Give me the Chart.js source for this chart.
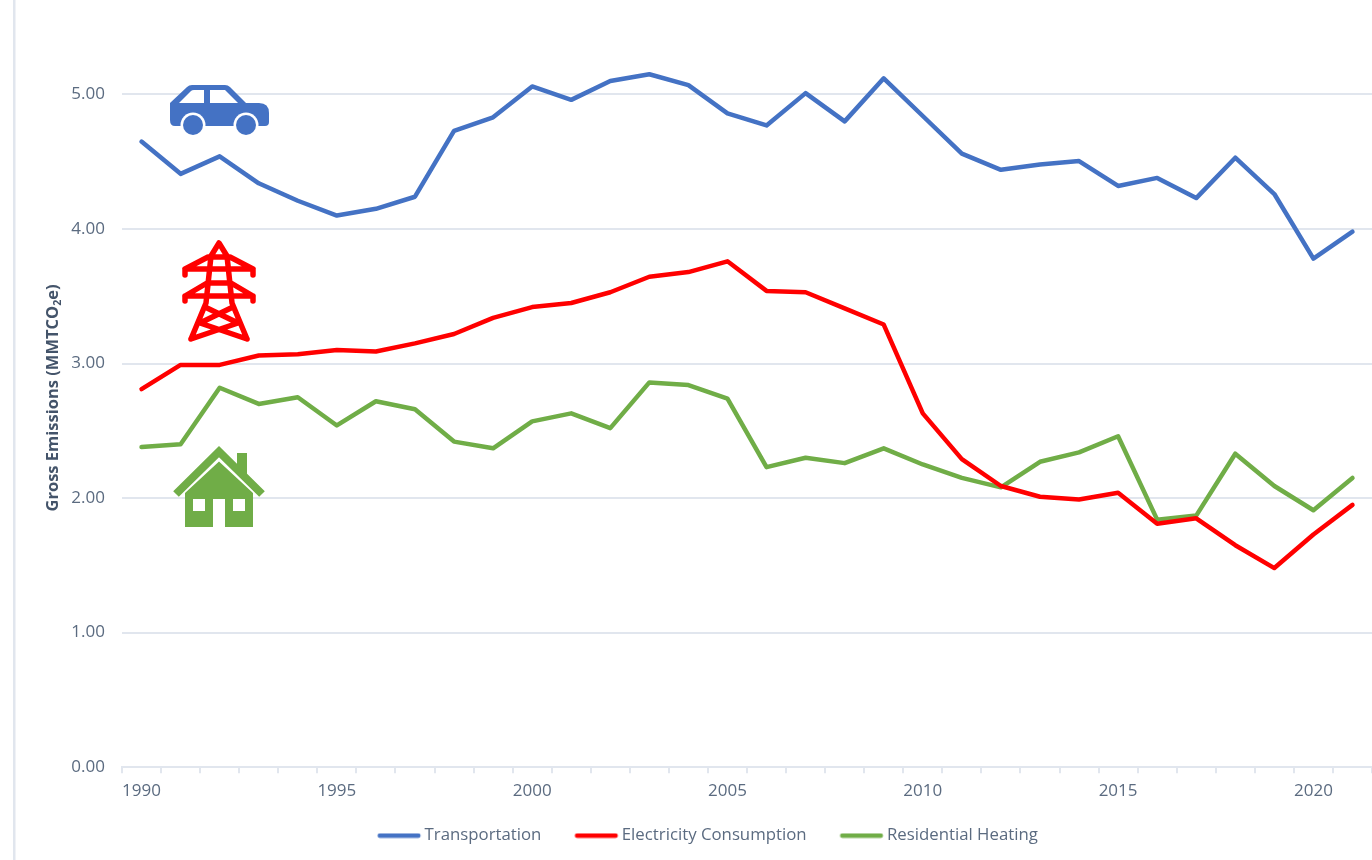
<!DOCTYPE html>
<html>
<head>
<meta charset="utf-8">
<title>Gross Emissions</title>
<script src="https://cdn.jsdelivr.net/npm/chart.js@4"></script>
<style>
  body { margin: 0; background: #fff; }
  canvas { display: block; }
</style>
</head>
<body>
<canvas id="chart" width="1372" height="860"></canvas>
<script>
const years = [1990, 1991, 1992, 1993, 1994, 1995, 1996, 1997, 1998, 1999, 2000, 2001, 2002, 2003, 2004, 2005,
  2006, 2007, 2008, 2009, 2010, 2011, 2012, 2013, 2014, 2015, 2016, 2017, 2018, 2019, 2020, 2021];
const transportation = [4.65, 4.41, 4.54, 4.34, 4.21, 4.10, 4.15, 4.24, 4.73, 4.83, 5.06, 4.96, 5.10, 5.15, 5.07, 4.86,
  4.77, 5.01, 4.80, 5.12, 4.84, 4.56, 4.44, 4.48, 4.505, 4.32, 4.38, 4.23, 4.53, 4.26, 3.78, 3.98];
const electricity = [2.81, 2.99, 2.99, 3.06, 3.07, 3.10, 3.09, 3.15, 3.22, 3.34, 3.42, 3.45, 3.53, 3.645, 3.68, 3.76,
  3.54, 3.53, 3.41, 3.29, 2.63, 2.29, 2.09, 2.01, 1.99, 2.04, 1.81, 1.85, 1.65, 1.48, 1.73, 1.95];
const residential = [2.38, 2.40, 2.82, 2.70, 2.75, 2.54, 2.72, 2.66, 2.42, 2.37, 2.57, 2.63, 2.52, 2.86, 2.84, 2.74,
  2.23, 2.30, 2.26, 2.37, 2.25, 2.15, 2.08, 2.27, 2.34, 2.46, 1.84, 1.87, 2.33, 2.09, 1.91, 2.15];

const BLUE = "#4472C4";
const RED = "#FF0000";
const GREEN = "#70AD47";
const TEXT = "#5B6B80";
const GRID = "#E1E6EE";
const FONT = "'Open Sans', sans-serif";

// legend key: the box is wide to space the items, the line only fills its right part
function legendLine(color) {
  const c = document.createElement("canvas");
  c.width = 78;
  c.height = 6;
  const g = c.getContext("2d");
  g.strokeStyle = color;
  g.lineWidth = 4.5;
  g.lineCap = "round";
  g.beginPath();
  g.moveTo(35.6, 3);
  g.lineTo(74.2, 3);
  g.stroke();
  return c;
}

// left rule, axis title with its subscript, and the three little icons
const decorPlugin = {
  id: "decor",
  afterDraw(chart) {
    const ctx = chart.ctx;
    ctx.save();
    ctx.fillStyle = GRID;
    ctx.fillRect(13, 0, 2.5, 860);

    // axis title
    ctx.translate(53, 398);
    ctx.rotate(-Math.PI / 2);
    ctx.fillStyle = "#44546A";
    ctx.textBaseline = "middle";
    ctx.textAlign = "left";
    const big = "bold 16.5px " + FONT;
    const small = "bold 10.5px " + FONT;
    ctx.font = big;
    const a = "Gross Emissions (MMTCO";
    const c = "e)";
    const aw = ctx.measureText(a).width;
    const cw = ctx.measureText(c).width;
    ctx.font = small;
    const bw = ctx.measureText("2").width;
    let x = -(aw + bw + cw) / 2;
    ctx.font = big;
    ctx.fillText(a, x, 0);
    x += aw;
    ctx.font = small;
    ctx.fillText("2", x, 5);
    x += bw;
    ctx.font = big;
    ctx.fillText(c, x, 0);
    ctx.restore();

    drawCar(ctx);
    drawPylon(ctx);
    drawHouse(ctx);
  },
};

function drawCar(ctx) {
  ctx.save();
  ctx.fillStyle = BLUE;
  ctx.fill(new Path2D("M170 103 L187 87 Q189 85 192 85 L225 85 Q228 85 230 87 L246 103 L259 103 Q269 103 269 113 L269 122 Q269 126 265 126 L175 126 Q170 126 170 120 Z"));
  ctx.fillStyle = "#fff";
  ctx.fill(new Path2D("M179 103 L191 91 Q192 90 194 90 L204 90 L204 103 Z"));
  ctx.fill(new Path2D("M210 90 L225 90 L238 103 L210 103 Z"));
  [193, 246].forEach((cx) => {
    ctx.fillStyle = "#fff";
    ctx.beginPath();
    ctx.arc(cx, 125, 12.5, 0, Math.PI * 2);
    ctx.fill();
    ctx.fillStyle = BLUE;
    ctx.beginPath();
    ctx.arc(cx, 125, 10, 0, Math.PI * 2);
    ctx.fill();
  });
  ctx.restore();
}

function drawPylon(ctx) {
  ctx.save();
  ctx.strokeStyle = RED;
  ctx.lineWidth = 5.5;
  ctx.lineCap = "round";
  ctx.lineJoin = "round";
  ctx.stroke(new Path2D(
    "M191 339 L206 303 L211 256 L219 243 L227 256 L232 303 L247 339 " +
    "M185 275 L185 269 L253 269 L253 275 " +
    "M185 269 L208 257 L230 257 L253 269 " +
    "M185 301 L185 296 L253 296 L253 301 " +
    "M185 296 L207 283 L231 283 L253 296 " +
    "M205 307 L238 323 L191 339 M233 307 L200 323 L247 339"
  ));
  ctx.restore();
}

function drawHouse(ctx) {
  ctx.save();
  ctx.fillStyle = GREEN;
  ctx.fill(new Path2D("M237 453 L247 453 L247 474 L237 474 Z"));
  ctx.strokeStyle = GREEN;
  ctx.lineWidth = 8;
  ctx.stroke(new Path2D("M176 494 L219 451.6 L262 494"));
  ctx.fill(new Path2D("M219 461.5 L253 493 L253 527 L225 527 L225 499 L213 499 L213 527 L185 527 L185 493 Z"));
  ctx.fillStyle = "#fff";
  ctx.fillRect(193, 499, 12, 12);
  ctx.fillRect(233, 499, 12, 12);
  ctx.restore();
}

new Chart(document.getElementById("chart"), {
  type: "line",
  data: {
    labels: years,
    datasets: [
      { label: "Transportation", data: transportation, borderColor: BLUE, backgroundColor: BLUE, pointStyle: legendLine(BLUE) },
      { label: "Electricity Consumption", data: electricity, borderColor: RED, backgroundColor: RED, pointStyle: legendLine(RED) },
      { label: "Residential Heating", data: residential, borderColor: GREEN, backgroundColor: GREEN, pointStyle: legendLine(GREEN) },
    ],
  },
  options: {
    responsive: false,
    animation: false,
    layout: { padding: { left: 16, right: 0, top: 3, bottom: 6 } },
    elements: {
      point: { radius: 0 },
      line: { borderWidth: 4.5, tension: 0, borderCapStyle: "round", borderJoinStyle: "round" },
    },
    plugins: {
      title: { display: false },
      tooltip: { enabled: false },
      legend: {
        position: "bottom",
        labels: {
          usePointStyle: true,
          pointStyleWidth: 66,
          padding: 6,
          color: TEXT,
          font: { family: FONT, size: 16.8 },
        },
      },
    },
    scales: {
      x: {
        offset: true,
        grid: { offset: true, drawOnChartArea: false, color: GRID, tickColor: GRID, tickLength: 6, lineWidth: 2 },
        border: { color: GRID, width: 2 },
        ticks: {
          autoSkip: false,
          maxRotation: 0,
          padding: 8,
          color: TEXT,
          font: { family: FONT, size: 17 },
          callback(value, index) {
            return years[index] % 5 === 0 ? String(years[index]) : "";
          },
        },
        afterFit(scale) { scale.height = 54; },
      },
      y: {
        min: 0,
        max: 5.5,
        grid: { color: GRID, lineWidth: 2, drawTicks: false },
        border: { display: false },
        ticks: {
          stepSize: 1,
          padding: 17,
          color: TEXT,
          font: { family: FONT, size: 17 },
          callback(value) { return value.toFixed(2); },
        },
        afterBuildTicks(scale) { scale.ticks = scale.ticks.filter((t) => Number.isInteger(t.value)); },
        afterFit(scale) { scale.width = 106; },
      },
    },
  },
  plugins: [decorPlugin],
});
</script>
</body>
</html>
